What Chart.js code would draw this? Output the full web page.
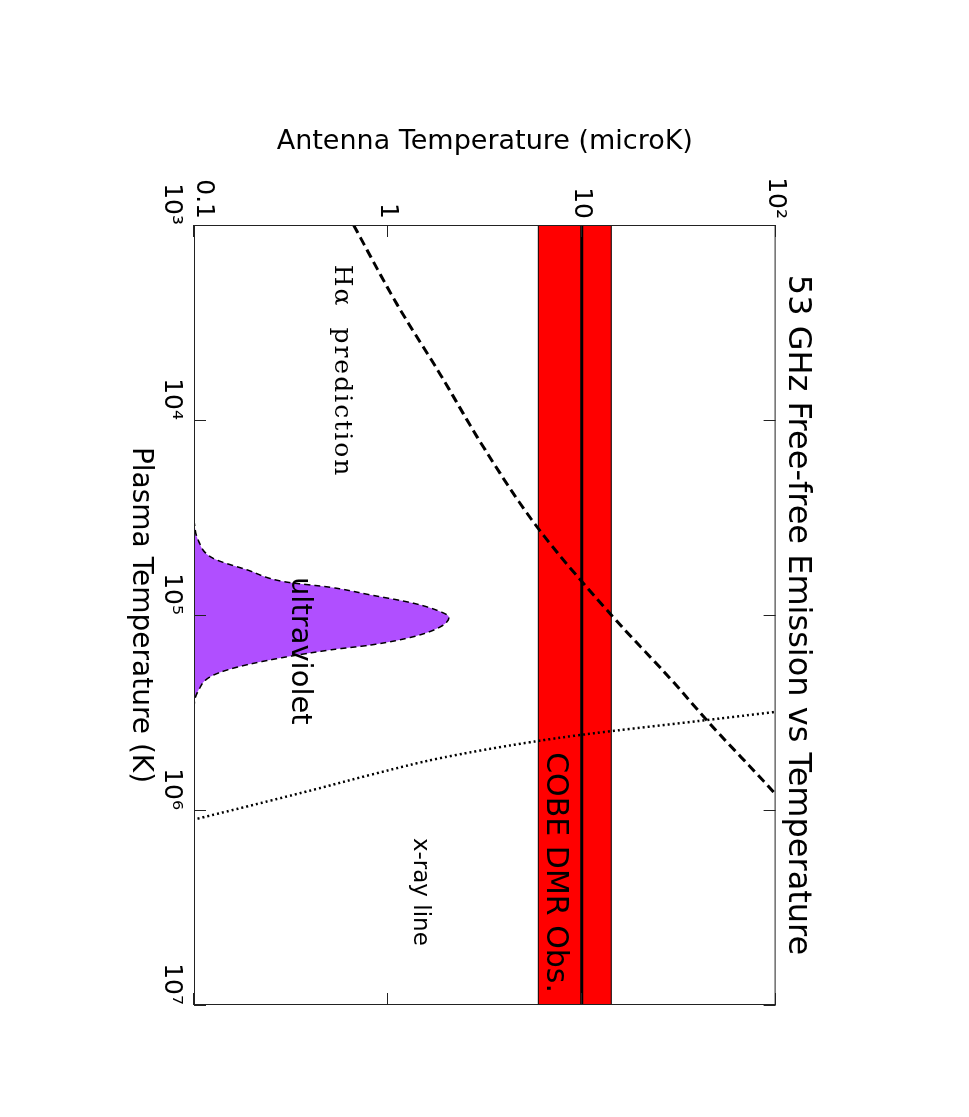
<!DOCTYPE html>
<html>
<head>
<meta charset="utf-8">
<script src="https://cdn.jsdelivr.net/npm/chart.js@4.4.1/dist/chart.umd.min.js"></script>
<style>
  html, body { margin: 0; padding: 0; background: #fff; overflow: hidden; }
  #wrap { position: relative; width: 969px; height: 1117px; }
  /* the figure is a landscape plot turned a quarter turn clockwise */
  #chart { position: absolute; left: 0; top: 0; transform-origin: 0 0; transform: translate(969px, 0) rotate(90deg); }
</style>
</head>
<body>
<div id="wrap"><canvas id="chart" width="1117" height="969"></canvas></div>
<script>
// axis ticks
const xTickValues = [1e3, 1e4, 1e5, 1e6, 1e7];
const xTickLabels = ['10³', '10⁴', '10⁵', '10⁶', '10⁷'];
const yTickValues = [0.1, 1, 10, 100];
const yTickLabels = ['0.1', '1', '10', '10²'];

// COBE DMR band (microK), across the whole temperature range
const cobeT = [1e3, 1e7];
const cobeLow = [5.97, 5.97];
const cobeHigh = [14.2, 14.2];
const cobeMid = [10, 10];

// H-alpha prediction (dashed)
const halphaT = [1e3, 2570, 5870, 13900, 35800, 1e5, 215000, 354000, 789000, 1e6];
const halphaTa = [0.665, 1.12, 1.87, 3.13, 5.94, 14.2, 29.0, 45, 95.5, 118];

// x-ray line (dotted)
const xrayT = [300000, 314000, 345000, 412000, 448000, 541000, 653000, 789000, 933000, 1120000, 1300000];
const xrayTa = [148, 100, 45, 9.9, 5.5, 1.88, 0.85, 0.41, 0.21, 0.1, 0.055];

// ultraviolet (filled)
const uvT = [32600, 41200, 51100, 58700, 67800, 72100, 78900, 87100, 96200, 102800,
  114800, 129100, 142600, 151000, 179900, 204200, 245500, 309000, 500000, 1120000];
const uvTa = [0.1, 0.105, 0.125, 0.188, 0.30, 0.506, 0.814, 1.36, 1.87, 2.07,
  1.87, 1.36, 0.814, 0.506, 0.188, 0.125, 0.105, 0.1, 0.1, 0.1];

const SANS = '"DejaVu Sans", sans-serif';
const SERIF = '"DejaVu Serif", serif';

// text written inside the plot, anchored at data coordinates
const notes = [
  { text: 'Hα  prediction', t: 1600, ta: 0.575, font: '25px ' + SERIF, spacing: '2px' },
  { text: 'ultraviolet', t: 63800, ta: 0.351, font: '29px ' + SANS, spacing: '0px' },
  { text: 'COBE DMR Obs.', t: 505000, ta: 7.28, font: '30px ' + SANS, spacing: '0px' },
  { text: 'x-ray line', t: 1390000, ta: 1.46, font: '23px ' + SANS, spacing: '0px' }
];

const pts = (xs, ys) => xs.map((x, i) => ({ x: x, y: ys[i] }));

const TICK = 12;
const frameTicks = {
  id: 'frameTicks',
  afterDatasetsDraw(chart) {
    const { ctx, chartArea: a, scales: { x, y } } = chart;
    ctx.save();
    ctx.strokeStyle = '#222';
    ctx.lineWidth = 1;
    ctx.strokeRect(a.left + 0.5, a.top + 0.5, a.width - 1, a.height - 1);
    ctx.beginPath();
    xTickValues.forEach(v => {
      const px = Math.round(x.getPixelForValue(v)) + 0.5;
      ctx.moveTo(px, a.bottom); ctx.lineTo(px, a.bottom - TICK);
      ctx.moveTo(px, a.top); ctx.lineTo(px, a.top + TICK);
    });
    yTickValues.forEach(v => {
      const py = Math.round(y.getPixelForValue(v)) + 0.5;
      ctx.moveTo(a.left, py); ctx.lineTo(a.left + TICK, py);
      ctx.moveTo(a.right, py); ctx.lineTo(a.right - TICK, py);
    });
    ctx.stroke();

    ctx.fillStyle = '#000';
    ctx.textAlign = 'left';
    ctx.textBaseline = 'middle';
    notes.forEach(n => {
      ctx.font = n.font;
      ctx.letterSpacing = n.spacing;
      ctx.fillText(n.text, x.getPixelForValue(n.t), y.getPixelForValue(n.ta));
    });
    ctx.restore();
  }
};

new Chart(document.getElementById('chart'), {
  type: 'line',
  data: {
    datasets: [
      { data: pts(uvT, uvTa), borderColor: '#000', borderWidth: 1.5, borderDash: [6, 4],
        backgroundColor: '#b04fff', fill: 'start', cubicInterpolationMode: 'monotone', order: 3 },
      { data: pts(cobeT, cobeLow), borderColor: '#000', borderWidth: 1, fill: false, order: 2 },
      { data: pts(cobeT, cobeHigh), borderColor: '#000', borderWidth: 1,
        backgroundColor: '#ff0000', fill: '-1', order: 2 },
      { data: pts(cobeT, cobeMid), borderColor: '#000', borderWidth: 3, fill: false, order: 1 },
      { data: pts(halphaT, halphaTa), borderColor: '#000', borderWidth: 3, borderDash: [9, 5],
        fill: false, cubicInterpolationMode: 'monotone', order: 0 },
      { data: pts(xrayT, xrayTa), borderColor: '#000', borderWidth: 2.5, borderDash: [2, 3],
        fill: false, cubicInterpolationMode: 'monotone', order: 0 }
    ]
  },
  options: {
    responsive: false,
    animation: false,
    devicePixelRatio: 1,
    layout: { padding: { top: 152, right: 112, left: 0, bottom: 0 } },
    elements: { point: { radius: 0 }, line: { tension: 0 } },
    plugins: {
      legend: { display: false },
      tooltip: { enabled: false },
      title: {
        display: true, fullSize: false,
        text: '53 GHz Free-free Emission vs Temperature',
        color: '#000', font: { family: SANS, size: 32, weight: 'normal' },
        padding: { top: 0, bottom: 3 }
      }
    },
    scales: {
      x: {
        type: 'logarithmic', min: 1e3, max: 1e7, position: 'bottom',
        grid: { display: false, drawTicks: false }, border: { display: false },
        afterBuildTicks: s => { s.ticks = xTickValues.map(v => ({ value: v })); },
        afterFit: s => { s.height = 194; },
        ticks: {
          align: 'end', padding: 7, maxRotation: 0, autoSkip: false, color: '#000',
          font: { family: SANS, size: 25 },
          callback: (v, i) => xTickLabels[i]
        },
        title: {
          display: true, text: 'Plasma Temperature (K)', color: '#000',
          font: { family: SANS, size: 28 }, padding: { top: 0, bottom: 123 }
        }
      },
      y: {
        type: 'logarithmic', min: 0.1, max: 100, position: 'left',
        grid: { display: false, drawTicks: false }, border: { display: false },
        afterBuildTicks: s => { s.ticks = yTickValues.map(v => ({ value: v })); },
        afterFit: s => { s.width = 225; },
        ticks: {
          padding: 6, autoSkip: false, color: '#000',
          font: { family: SANS, size: 25, lineHeight: 0.8 },
          // the lowest label sits just above its tick, clear of the 10³ label
          callback: (v, i) => (i === 0 ? [yTickLabels[i], ''] : yTickLabels[i])
        },
        title: {
          display: true, text: 'Antenna Temperature (microK)', color: '#000',
          font: { family: SANS, size: 27 }, padding: { top: 126, bottom: 0 }
        }
      }
    }
  },
  plugins: [frameTicks]
});
</script>
</body>
</html>
